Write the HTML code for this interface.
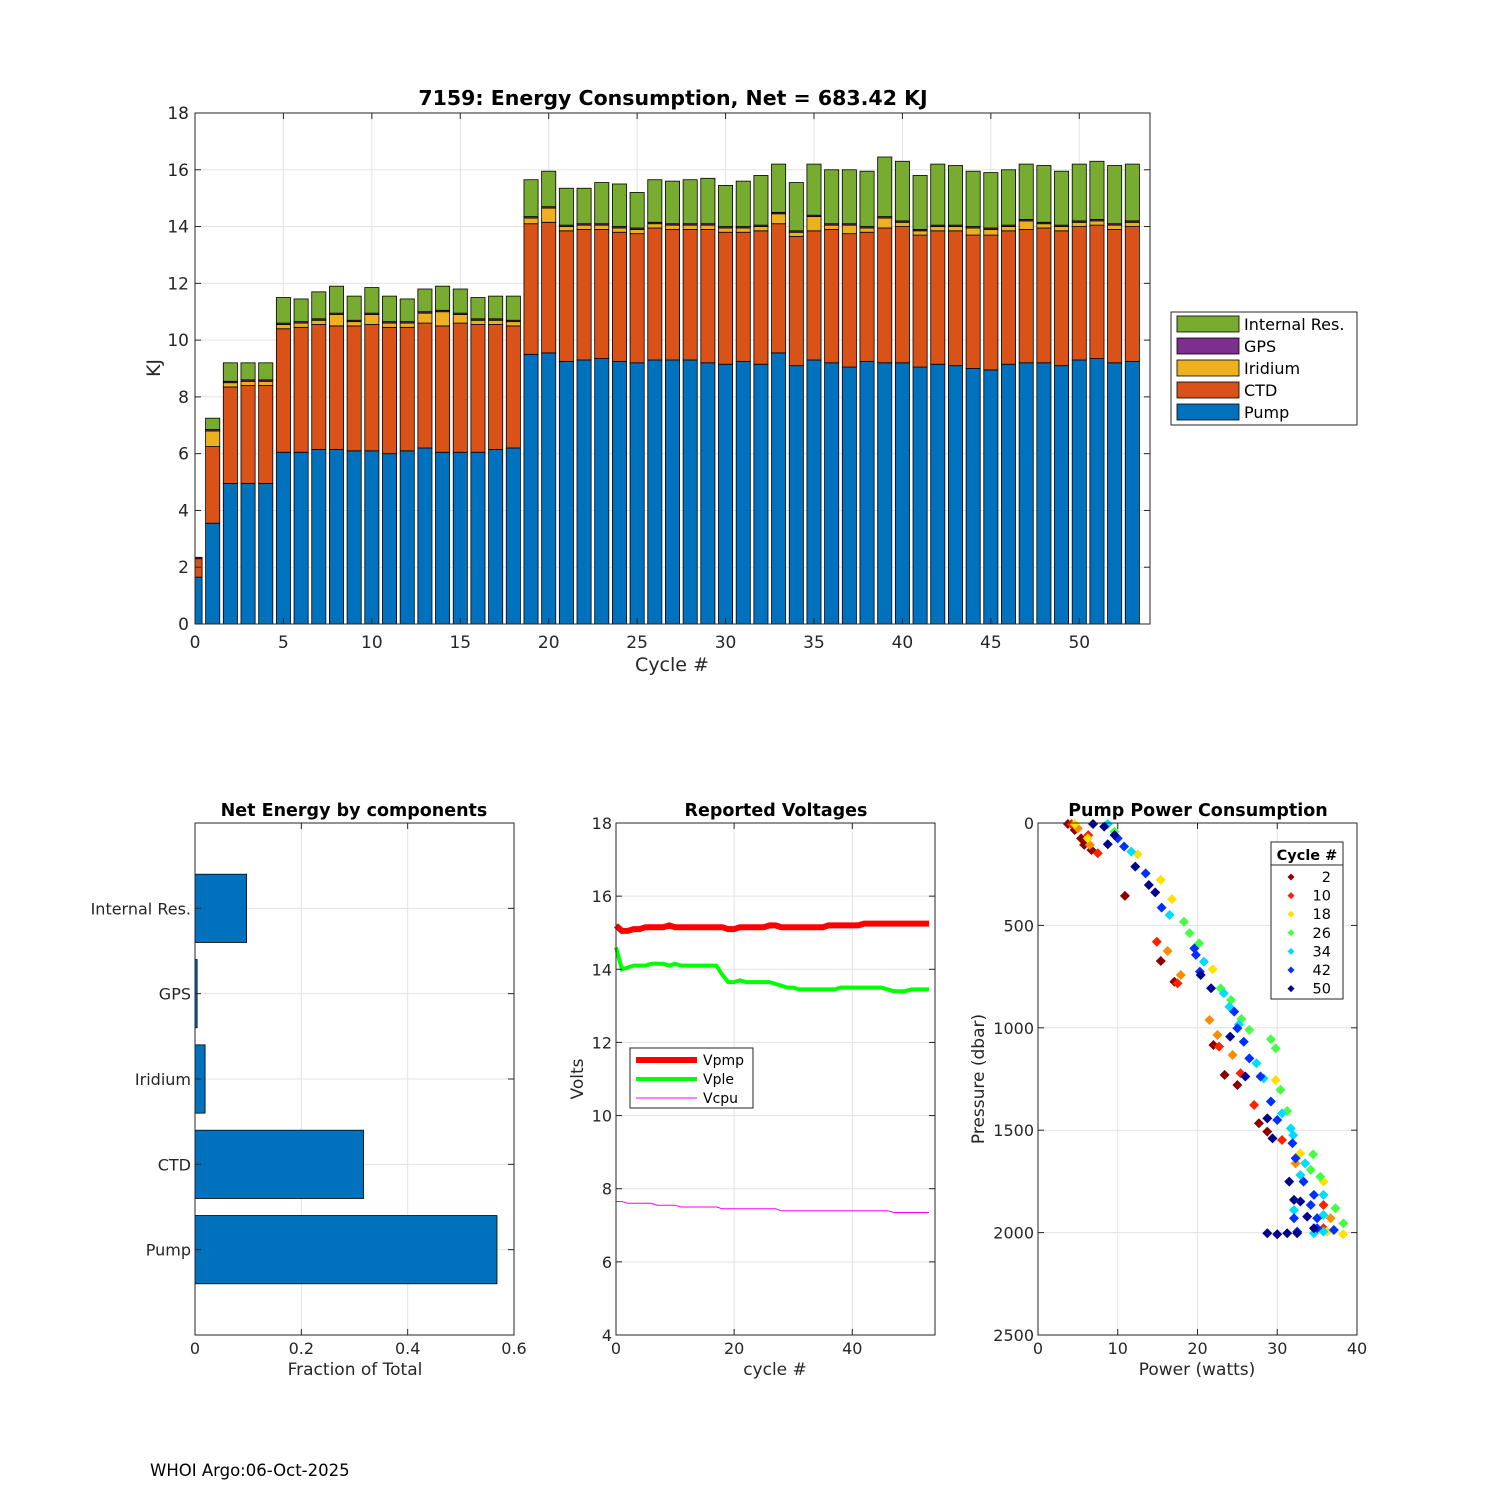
<!DOCTYPE html>
<html><head><meta charset="utf-8"><style>
html,body{margin:0;padding:0;background:#fff;}
svg{display:block;font-family:"DejaVu Sans","Liberation Sans",sans-serif;}
</style></head><body>
<svg id="fig" width="1500" height="1500" viewBox="0 0 1500 1500" xmlns="http://www.w3.org/2000/svg">
<rect width="1500" height="1500" fill="#fff"/>
<text x="150" y="1476" font-size="16.5" fill="#000">WHOI Argo:06-Oct-2025</text>
</svg>
<script>
// ===== Top chart data =====
const cycles=[0,1,2,3,4,5,6,7,8,9,10,11,12,13,14,15,16,17,18,19,20,21,22,23,24,25,26,27,28,29,30,31,32,33,34,35,36,37,38,39,40,41,42,43,44,45,46,47,48,49,50,51,52,53];
const pumpKJ=[1.65,3.55,4.95,4.95,4.95,6.05,6.05,6.15,6.15,6.1,6.1,6.0,6.1,6.2,6.05,6.05,6.05,6.15,6.2,9.5,9.55,9.25,9.3,9.35,9.25,9.2,9.3,9.3,9.3,9.2,9.15,9.25,9.15,9.55,9.1,9.3,9.2,9.05,9.25,9.2,9.2,9.05,9.15,9.1,9.0,8.95,9.15,9.2,9.2,9.1,9.3,9.35,9.2,9.25];
const ctdKJ=[0.65,2.7,3.4,3.45,3.45,4.35,4.4,4.4,4.35,4.4,4.45,4.45,4.35,4.4,4.45,4.55,4.5,4.4,4.3,4.6,4.6,4.6,4.6,4.55,4.55,4.55,4.65,4.6,4.6,4.7,4.65,4.55,4.7,4.55,4.55,4.55,4.7,4.7,4.55,4.75,4.8,4.65,4.7,4.75,4.7,4.75,4.7,4.7,4.75,4.75,4.7,4.7,4.7,4.75];
const iridiumKJ=[0,0.55,0.15,0.15,0.15,0.15,0.15,0.15,0.4,0.15,0.35,0.15,0.15,0.35,0.5,0.3,0.15,0.15,0.15,0.2,0.5,0.15,0.15,0.15,0.15,0.15,0.15,0.15,0.15,0.15,0.15,0.15,0.15,0.35,0.15,0.5,0.15,0.3,0.15,0.35,0.15,0.15,0.15,0.15,0.25,0.2,0.15,0.3,0.15,0.15,0.15,0.15,0.15,0.15];
const gpsKJ=[0.05,0.05,0.05,0.05,0.05,0.05,0.05,0.05,0.05,0.05,0.05,0.05,0.05,0.05,0.05,0.05,0.05,0.05,0.05,0.05,0.05,0.05,0.05,0.05,0.05,0.05,0.05,0.05,0.05,0.05,0.05,0.05,0.05,0.05,0.05,0.05,0.05,0.05,0.05,0.05,0.05,0.05,0.05,0.05,0.05,0.05,0.05,0.05,0.05,0.05,0.05,0.05,0.05,0.05];
const internalKJ=[0,0.4,0.65,0.6,0.6,0.9,0.8,0.95,0.95,0.85,0.9,0.9,0.8,0.8,0.85,0.85,0.75,0.8,0.85,1.3,1.25,1.3,1.25,1.45,1.5,1.25,1.5,1.5,1.55,1.6,1.45,1.6,1.75,1.7,1.7,1.8,1.9,1.9,1.95,2.1,2.1,1.9,2.15,2.1,1.95,1.95,1.95,1.95,2.0,1.9,2.0,2.05,2.05,2.0];
const topYTicks=[0,2,4,6,8,10,12,14,16,18];
const topXTicks=[0,5,10,15,20,25,30,35,40,45,50];
// ===== Bottom-left data =====
const compNames=["Pump","CTD","Iridium","GPS","Internal Res."];
const compFrac=[0.568,0.317,0.019,0.004,0.097];
const fracTicks=[0,0.2,0.4,0.6];
// ===== Voltages =====
const vpmp=[15.2,15.05,15.05,15.1,15.1,15.15,15.15,15.15,15.15,15.2,15.15,15.15,15.15,15.15,15.15,15.15,15.15,15.15,15.15,15.1,15.1,15.15,15.15,15.15,15.15,15.15,15.2,15.2,15.15,15.15,15.15,15.15,15.15,15.15,15.15,15.15,15.2,15.2,15.2,15.2,15.2,15.2,15.25,15.25,15.25,15.25,15.25,15.25,15.25,15.25,15.25,15.25,15.25,15.25];
const vple=[14.6,14.0,14.05,14.1,14.1,14.1,14.15,14.15,14.15,14.1,14.15,14.1,14.1,14.1,14.1,14.1,14.1,14.1,13.85,13.65,13.65,13.7,13.65,13.65,13.65,13.65,13.65,13.6,13.55,13.5,13.5,13.45,13.45,13.45,13.45,13.45,13.45,13.45,13.5,13.5,13.5,13.5,13.5,13.5,13.5,13.5,13.45,13.4,13.4,13.4,13.45,13.45,13.45,13.45];
const vcpu=[7.65,7.65,7.6,7.6,7.6,7.6,7.6,7.55,7.55,7.55,7.55,7.5,7.5,7.5,7.5,7.5,7.5,7.5,7.45,7.45,7.45,7.45,7.45,7.45,7.45,7.45,7.45,7.45,7.4,7.4,7.4,7.4,7.4,7.4,7.4,7.4,7.4,7.4,7.4,7.4,7.4,7.4,7.4,7.4,7.4,7.4,7.4,7.35,7.35,7.35,7.35,7.35,7.35,7.35];
const voltYTicks=[4,6,8,10,12,14,16,18];
const voltXTicks=[0,20,40];
// ===== Pump power scatter =====
const pwrWatts=[
 [3.75,4.6,5.4,5.8,6.7,10.9,15.4,17.1,22,23.4,25,27.7,28.75],
 [4.2,6.3,7.5,14.9,17.5,22.7,25.4,27.1,30.6,35.8,35.8],
 [5,6.5,16.25,17.9,21.5,22.5,24.4,32.3,36.7],
 [4.6,6.25,12.5,15.4,16.8,21.9,29.8,32.9,35.8,38.25,36.25],
 [9.6,18.3,19,20.2,22.9,24.2,25.5,26.5,29.2,29.8,30.4,31.25,34.5,34.2,35.4,37.3,38.3],
 [8.75,11.7,16.5,20.8,23.3,24,25.2,27.4,28.3,30.6,31.7,32,33.5,32.9,35.8,35.8,32.1,35.8,34.6],
 [10,10.8,13.5,15.5,19.6,19.8,20.3,24.6,25,25.8,26.5,27.9,29.2,30,31.9,32.3,33.3,34.6,34.2,32.1,35,37.1,32.5,35],
 [6.9,8.3,9.6,8.75,12.2,13.9,14.7,20.4,21.7,24.1,26,28.75,29.4,31.5,32.1,32.9,33.75,34.6,28.75,30,31.25,32.5]
];
const pwrPress=[
 [5,34,75,107,132,356,674,775,1084,1230,1279,1466,1507],
 [5,59,148,580,783,1092,1222,1377,1548,1865,1979],
 [26,107,625,742,962,1035,1133,1662,1930],
 [5,75,153,278,372,714,1255,1613,1751,2008,1995],
 [42,482,538,587,807,864,957,1010,1056,1100,1303,1406,1618,1694,1727,1881,1955],
 [5,140,449,677,831,897,983,1173,1247,1418,1491,1524,1662,1719,1816,1914,1890,1995,2003],
 [75,115,246,413,612,644,726,921,1002,1068,1149,1238,1360,1450,1564,1637,1751,1816,1865,1930,1930,1987,1995,1979],
 [5,18,59,104,213,303,339,742,807,1043,1238,1442,1540,1751,1840,1848,1922,1979,2003,2008,2003,2003]
];
const groupColors=["#8a0000","#ff2200","#ff8c00","#ffe000","#44ff44","#00dcff","#0030ff","#00008c"];
const legendCycles=[2,10,18,26,34,42,50];
const legendColors=["#8a0000","#ff2200","#ffe000","#44ff44","#00dcff","#0030ff","#00008c"];
const pressTicks=[0,500,1000,1500,2000,2500];
const powTicks=[0,10,20,30,40];

const NS="http://www.w3.org/2000/svg";
const fig=document.getElementById('fig');
function mk(tag,attrs,parent){const e=document.createElementNS(NS,tag);for(const k in attrs)e.setAttribute(k,attrs[k]);(parent||fig).appendChild(e);return e;}
function txt(x,y,s,size,anchor,parent,extra){const t=mk('text',Object.assign({x:x,y:y,'font-size':size,'text-anchor':anchor||'middle',fill:'#262626'},extra||{}),parent);t.textContent=s;return t;}

// ===== TOP CHART =====
(function(){
  const L=195,R=1150,T=113,B=624;
  const xs=v=>L+(v-0)/54*(R-L);
  const ys=v=>B-(v/18)*(B-T);
  const g=mk('g',{});
  
  
  topYTicks.forEach(v=>{const y=ys(v);mk('line',{x1:L,x2:R,y1:y,y2:y,stroke:'#e3e3e3'},g);});
  topXTicks.forEach(v=>{const x=xs(v);mk('line',{x1:x,x2:x,y1:T,y2:B,stroke:'#e3e3e3'},g);});
  const clip=mk('clipPath',{id:'topclip'},g);mk('rect',{x:L,y:T,width:R-L,height:B-T},clip);
  const bars=mk('g',{'clip-path':'url(#topclip)'},g);
  const series=[[pumpKJ,'#0072BD','pump'],[ctdKJ,'#D95319','ctd'],[iridiumKJ,'#EDB120','iridium'],[gpsKJ,'#7E2F8E','gps'],[internalKJ,'#77AC30','internal']];
  cycles.forEach((c,i)=>{
    let base=0;
    series.forEach(s=>{
      const v=s[0][i];
      const x0=xs(c-0.4),x1=xs(c+0.4);
      const r=mk('rect',{x:x0,y:ys(base+v),width:x1-x0,height:ys(base)-ys(base+v),fill:s[1],stroke:'#000','stroke-width':0.8},bars);
      
      
      base+=v;
    });
  });
  topYTicks.forEach(v=>{const y=ys(v);mk('line',{x1:L,x2:L+6,y1:y,y2:y,stroke:'#262626'},g);mk('line',{x1:R,x2:R-6,y1:y,y2:y,stroke:'#262626'},g);
    const t=txt(L-6,y+6,String(v),17,'end',g);});
  topXTicks.forEach(v=>{const x=xs(v);mk('line',{x1:x,x2:x,y1:B,y2:B-6,stroke:'#262626'},g);mk('line',{x1:x,x2:x,y1:T,y2:T+6,stroke:'#262626'},g);
    const t=txt(x,B+24,String(v),17,'middle',g);});
  mk('rect',{x:L,y:T,width:R-L,height:B-T,fill:'none',stroke:'#262626'},g);
  const tt=txt(673,105,'7159: Energy Consumption,  Net = 683.42 KJ',20.5,'middle',g,{'font-weight':'bold',fill:'#000'});
  
  const xl=txt(672,671,'Cycle #',19,'middle',g);
  const yl=txt(0,0,'KJ',19,'middle',g,{transform:'translate(160,368) rotate(-90)'});
  const lg=mk('g',{},g);
  mk('rect',{x:1171,y:312,width:186,height:113,fill:'#fff',stroke:'#262626'},lg);
  const items=[['Internal Res.','#77AC30'],['GPS','#7E2F8E'],['Iridium','#EDB120'],['CTD','#D95319'],['Pump','#0072BD']];
  items.forEach((it,i)=>{const y=316+i*22;
    mk('rect',{x:1177,y:y,width:62,height:16,fill:it[1],stroke:'#000','stroke-width':0.8},lg);
    const t=txt(1244,y+14,it[0],16,'start',lg,{fill:'#000'});});
})();

// ===== BOTTOM LEFT =====
(function(){
  const L=195,R=514,T=823,B=1335;
  const xs=v=>L+v/0.6*(R-L);
  const ys=v=>B-v/6*(B-T);
  const g=mk('g',{});
  fracTicks.forEach(v=>{const x=xs(v);mk('line',{x1:x,x2:x,y1:T,y2:B,stroke:'#e3e3e3'},g);});
  compNames.forEach((n,i)=>{const y=ys(i+1);mk('line',{x1:L,x2:R,y1:y,y2:y,stroke:'#e3e3e3'},g);});
  compNames.forEach((n,i)=>{
    const y0=ys(i+1.4),y1=ys(i+0.6);
    const r=mk('rect',{x:xs(0),y:y0,width:xs(compFrac[i])-xs(0),height:y1-y0,fill:'#0072BD',stroke:'#000','stroke-width':0.8},g);
    
    
    const y=ys(i+1);
    mk('line',{x1:L,x2:L+6,y1:y,y2:y,stroke:'#262626'},g);mk('line',{x1:R,x2:R-6,y1:y,y2:y,stroke:'#262626'},g);
    const t=txt(L-4,y+6,n,16,'end',g);
  });
  fracTicks.forEach(v=>{const x=xs(v);mk('line',{x1:x,x2:x,y1:B,y2:B-6,stroke:'#262626'},g);mk('line',{x1:x,x2:x,y1:T,y2:T+6,stroke:'#262626'},g);
    const t=txt(x,B+19,String(v),16,'middle',g);});
  mk('rect',{x:L,y:T,width:R-L,height:B-T,fill:'none',stroke:'#262626'},g);
  const tt=txt(354,816,'Net Energy by components',17.5,'middle',g,{'font-weight':'bold',fill:'#000'});
  const xl=txt(355,1375,'Fraction of Total',17,'middle',g);
})();

// ===== VOLTAGES =====
(function(){
  const L=616,R=935,T=823,B=1335;
  const xs=v=>L+v/54*(R-L);
  const ys=v=>B-(v-4)/14*(B-T);
  const g=mk('g',{});
  voltYTicks.forEach(v=>{const y=ys(v);mk('line',{x1:L,x2:R,y1:y,y2:y,stroke:'#e3e3e3'},g);});
  voltXTicks.forEach(v=>{const x=xs(v);mk('line',{x1:x,x2:x,y1:T,y2:B,stroke:'#e3e3e3'},g);});
  const lines=[[vpmp,'#ff0000',6,'vpmp-line'],[vple,'#00ff00',4,'vple-line'],[vcpu,'#ff00ff',1,'vcpu-line']];
  lines.forEach(l=>{const pts=l[0].map((v,i)=>xs(cycles[i]).toFixed(1)+','+ys(v).toFixed(1)).join(' ');
    const p=mk('polyline',{points:pts,fill:'none',stroke:l[1],'stroke-width':l[2]},g);
    });
  voltYTicks.forEach(v=>{const y=ys(v);mk('line',{x1:L,x2:L+6,y1:y,y2:y,stroke:'#262626'},g);mk('line',{x1:R,x2:R-6,y1:y,y2:y,stroke:'#262626'},g);
    const t=txt(L-4,y+6,String(v),16,'end',g);});
  voltXTicks.forEach(v=>{const x=xs(v);mk('line',{x1:x,x2:x,y1:B,y2:B-6,stroke:'#262626'},g);mk('line',{x1:x,x2:x,y1:T,y2:T+6,stroke:'#262626'},g);
    const t=txt(x,B+19,String(v),16,'middle',g);});
  mk('rect',{x:L,y:T,width:R-L,height:B-T,fill:'none',stroke:'#262626'},g);
  const tt=txt(776,816,'Reported Voltages',17.5,'middle',g,{'font-weight':'bold',fill:'#000'});
  const xl=txt(775,1375,'cycle #',17,'middle',g);
  const yl=txt(0,0,'Volts',17,'middle',g,{transform:'translate(583,1079) rotate(-90)'});
  const lg=mk('g',{},g);
  mk('rect',{x:630,y:1048,width:123,height:60,fill:'#fff',stroke:'#262626'},lg);
  [['Vpmp','#ff0000',6],['Vple','#00ff00',4],['Vcpu','#ff00ff',1]].forEach((it,i)=>{const y=1060+i*19;
    mk('line',{x1:636,x2:697,y1:y,y2:y,stroke:it[1],'stroke-width':it[2]},lg);
    const t=txt(703,y+5,it[0],14,'start',lg,{fill:'#000'});});
})();

// ===== PUMP POWER =====
(function(){
  const L=1038,R=1357,T=823,B=1335;
  const xs=v=>L+v/40*(R-L);
  const ys=v=>T+v/2500*(B-T);
  const g=mk('g',{});
  pressTicks.forEach(v=>{const y=ys(v);mk('line',{x1:L,x2:R,y1:y,y2:y,stroke:'#e3e3e3'},g);});
  powTicks.forEach(v=>{const x=xs(v);mk('line',{x1:x,x2:x,y1:T,y2:B,stroke:'#e3e3e3'},g);});
  pwrWatts.forEach((arr,gi)=>{
    arr.forEach((w,j)=>{const x=xs(w),y=ys(pwrPress[gi][j]);
      const d=mk('path',{d:`M${x} ${y-5}L${x+5} ${y}L${x} ${y+5}L${x-5} ${y}Z`,fill:groupColors[gi]},g);
      });
  });
  pressTicks.forEach(v=>{const y=ys(v);mk('line',{x1:L,x2:L+6,y1:y,y2:y,stroke:'#262626'},g);mk('line',{x1:R,x2:R-6,y1:y,y2:y,stroke:'#262626'},g);
    const t=txt(L-4,y+6,String(v),16,'end',g);});
  powTicks.forEach(v=>{const x=xs(v);mk('line',{x1:x,x2:x,y1:B,y2:B-6,stroke:'#262626'},g);mk('line',{x1:x,x2:x,y1:T,y2:T+6,stroke:'#262626'},g);
    const t=txt(x,B+19,String(v),16,'middle',g);});
  mk('rect',{x:L,y:T,width:R-L,height:B-T,fill:'none',stroke:'#262626'},g);
  const tt=txt(1198,816,'Pump Power Consumption',17.5,'middle',g,{'font-weight':'bold',fill:'#000'});
  const xl=txt(1197,1375,'Power (watts)',17,'middle',g);
  const yl=txt(0,0,'Pressure (dbar)',17,'middle',g,{transform:'translate(984,1079) rotate(-90)'});
  const lg=mk('g',{},g);
  mk('rect',{x:1271,y:842,width:72,height:157,fill:'#fff',stroke:'#262626'},lg);
  mk('line',{x1:1271,x2:1343,y1:865,y2:865,stroke:'#262626'},lg);
  const h=txt(1307,860,'Cycle #',14.5,'middle',lg,{'font-weight':'bold',fill:'#000'});
  legendCycles.forEach((c,i)=>{const y=877+i*18.6;
    mk('path',{d:`M1291 ${y-3.5}L1294.5 ${y}L1291 ${y+3.5}L1287.5 ${y}Z`,fill:legendColors[i]},lg);
    const t=txt(1331,y+5,String(c),14.5,'end',lg,{fill:'#000'});});
})();
</script>
</body></html>
